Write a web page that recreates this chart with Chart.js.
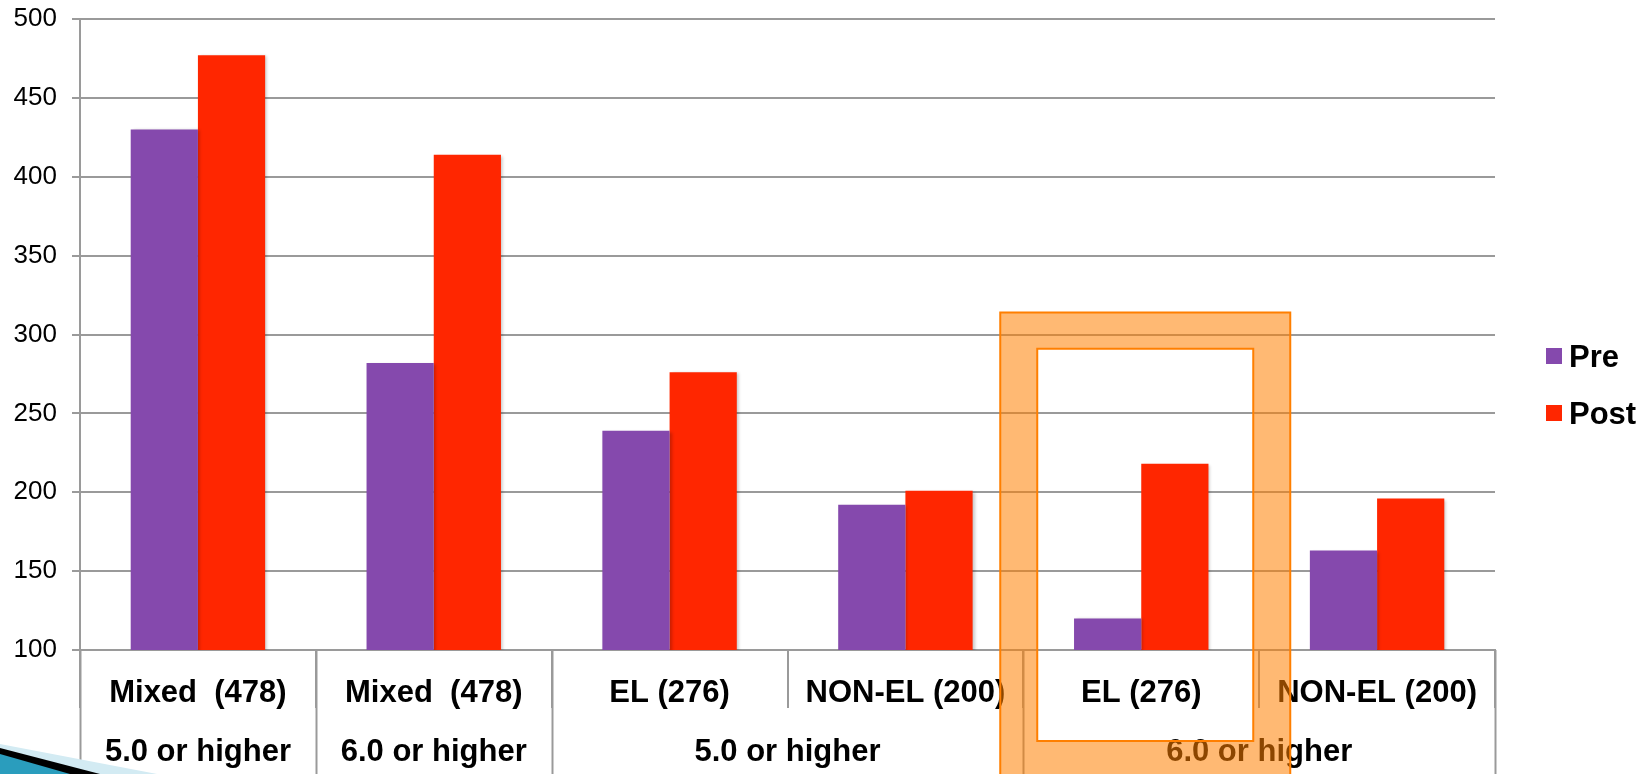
<!DOCTYPE html>
<html>
<head>
<meta charset="utf-8">
<script src="https://cdn.jsdelivr.net/npm/chart.js@4"></script>
<style>
  html, body { margin: 0; padding: 0; background: #fff; }
  #wrap { width: 1652px; height: 774px; }
</style>
</head>
<body>
<div id="wrap"><canvas id="chart"></canvas></div>
<script>
// ------- DATA -------
const categories = ["Mixed  (478)", "Mixed  (478)", "EL (276)", "NON-EL (200)", "EL (276)", "NON-EL (200)"];
const groupLabels = ["5.0 or higher", "6.0 or higher", "5.0 or higher", "6.0 or higher"];
const groupSizes = [1, 1, 2, 2];
const preValues = [430, 282, 239, 192, 120, 163];
const postValues = [477, 414, 276, 201, 218, 196];
const yTicks = [100, 150, 200, 250, 300, 350, 400, 450, 500];
const highlightIndex = 4;

const FONT = "'Liberation Sans', Arial, sans-serif";
const GRID = "#9a9a9a";

// ------- SLIDE EXTRAS: second label row, legend, orange highlight -------
const slidePlugin = {
    id: "slide",
    beforeDatasetsDraw(chart) {
        let ctx = chart.ctx;
        ctx.save();
        ctx.shadowColor = "rgba(0,0,0,0.22)";
        ctx.shadowBlur = 3;
        ctx.shadowOffsetX = 2;
        ctx.shadowOffsetY = 1;
    },
    afterDatasetsDraw(chart) {
        chart.ctx.restore();
    },
    afterDraw(chart) {
        let ctx = chart.ctx;
        let x = chart.scales.x;
        let y = chart.scales.y;
        let area = chart.chartArea;

        let edge = i => {
            if (i <= 0) return area.left;
            if (i >= categories.length) return area.right;
            return (x.getPixelForValue(i - 1) + x.getPixelForValue(i)) / 2;
        };

        // group dividers + group labels
        let bounds = [0];
        let s = 0;
        groupSizes.forEach(n => { s += n; bounds.push(s); });

        ctx.save();
        ctx.strokeStyle = GRID;
        ctx.lineWidth = 2;
        bounds.forEach(b => {
            let px = Math.round(edge(b)) + 0.5;
            ctx.beginPath();
            ctx.moveTo(px, area.bottom);
            ctx.lineTo(px, chart.height);
            ctx.stroke();
        });

        ctx.fillStyle = "#000";
        ctx.font = "bold 31px " + FONT;
        ctx.textAlign = "center";
        ctx.textBaseline = "alphabetic";
        groupLabels.forEach((g, i) => {
            let cx = (edge(bounds[i]) + edge(bounds[i + 1])) / 2;
            ctx.fillText(g, cx, area.bottom + 111);
        });

        // legend
        let lx = area.right + 51;
        chart.data.datasets.forEach((ds, i) => {
            let cy = chart.height / 2 - 31 + i * 57;
            ctx.fillStyle = ds.backgroundColor;
            ctx.fillRect(lx, cy - 8, 16, 16);
            ctx.fillStyle = "#000";
            ctx.textAlign = "left";
            ctx.textBaseline = "middle";
            ctx.fillText(ds.label, lx + 23, cy + 2);
        });

        // orange highlight frame
        let cx = x.getPixelForValue(highlightIndex) + 4;
        let oTop = y.getPixelForValue(314);
        let iTop = y.getPixelForValue(291);
        let iBot = area.bottom + 91;
        let oBot = chart.height + 5;
        ctx.beginPath();
        ctx.rect(cx - 145, oTop, 290, oBot - oTop);
        ctx.rect(cx - 108, iTop, 216, iBot - iTop);
        ctx.fillStyle = "rgba(255,127,0,0.55)";
        ctx.fill("evenodd");
        ctx.strokeStyle = "#ff7f00";
        ctx.lineWidth = 2;
        ctx.stroke();

        // slide corner decoration
        let h = chart.height;
        ctx.fillStyle = "#d3ebf3";
        ctx.beginPath(); ctx.moveTo(0, h - 30); ctx.lineTo(157, h); ctx.lineTo(0, h); ctx.fill();
        ctx.fillStyle = "#000";
        ctx.beginPath(); ctx.moveTo(0, h - 26); ctx.lineTo(100, h); ctx.lineTo(0, h); ctx.fill();
        ctx.fillStyle = "#2a9dbd";
        ctx.beginPath(); ctx.moveTo(0, h - 20); ctx.lineTo(70, h); ctx.lineTo(0, h); ctx.fill();
        ctx.restore();
    }
};

// ------- CHART -------
let ctx = document.getElementById("chart").getContext("2d");

new Chart(ctx, {
    type: "bar",
    data: {
        labels: categories,
        datasets: [{
            label: "Pre",
            data: preValues,
            backgroundColor: "#8549ad"
        }, {
            label: "Post",
            data: postValues,
            backgroundColor: "#ff2600"
        }]
    },
    options: {
        responsive: true,
        maintainAspectRatio: false,
        animation: false,
        layout: { padding: { top: 19, right: 157, left: 0, bottom: 0 } },
        datasets: { bar: { categoryPercentage: 0.57, barPercentage: 1.0 } },
        plugins: {
            legend: { display: false },
            tooltip: { enabled: false }
        },
        scales: {
            x: {
                grid: { drawOnChartArea: false, drawTicks: true, tickLength: 58, color: GRID, lineWidth: 2 },
                border: { display: true, color: GRID, width: 2 },
                ticks: {
                    color: "#000",
                    font: { family: FONT, size: 31, weight: "bold" },
                    padding: -33,
                    maxRotation: 0,
                    autoSkip: false
                },
                afterFit(scale) { scale.height = 124; }
            },
            y: {
                min: 100,
                max: 500,
                afterBuildTicks(scale) { scale.ticks = yTicks.map(v => ({ value: v })); },
                grid: { color: GRID, lineWidth: 2, tickLength: 8 },
                border: { display: true, color: GRID, width: 2 },
                ticks: {
                    color: "#000",
                    font: { family: FONT, size: 26 },
                    padding: 15
                },
                afterFit(scale) {
                    scale.width = 80;
                    scale.paddingTop = 0;
                    scale.paddingBottom = 0;
                }
            }
        }
    },
    plugins: [slidePlugin]
});
</script>
</body>
</html>
